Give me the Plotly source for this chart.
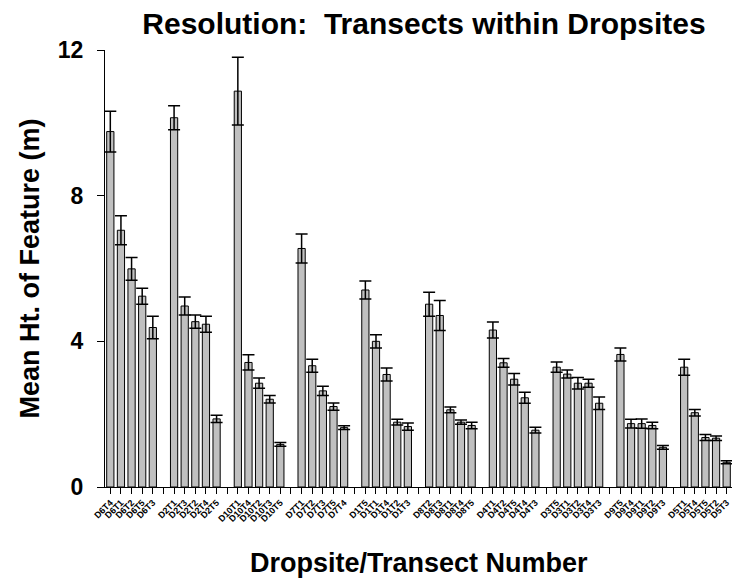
import plotly.graph_objects as go

# bar labels, in plotted order (5 transects per dropsite)
labels = [
    "D6T4", "D6T1", "D6T2", "D6T5", "D6T3",
    "D2T1", "D2T3", "D2T2", "D2T4", "D2T5",
    "D10T1", "D10T4", "D10T2", "D10T3", "D10T5",
    "D7T1", "D7T2", "D7T3", "D7T5", "D7T4",
    "D1T5", "D1T1", "D1T4", "D1T2", "D1T3",
    "D8T2", "D8T3", "D8T1", "D8T4", "D8T5",
    "D4T1", "D4T2", "D4T5", "D4T4", "D4T3",
    "D3T5", "D3T1", "D3T2", "D3T4", "D3T3",
    "D9T5", "D9T4", "D9T1", "D9T2", "D9T3",
    "D5T1", "D5T4", "D5T5", "D5T2", "D5T3",
]

means = [
    9.76, 7.05, 5.99, 5.24, 4.38,
    10.14, 4.97, 4.54, 4.47, 1.87,
    10.87, 3.42, 2.85, 2.41, 1.17,
    6.55, 3.33, 2.64, 2.21, 1.63,
    5.41, 4.00, 3.09, 1.78, 1.66,
    5.02, 4.71, 2.12, 1.78, 1.69,
    4.31, 3.41, 2.96, 2.45, 1.56,
    3.29, 3.10, 2.85, 2.85, 2.30,
    3.64, 1.74, 1.74, 1.69, 1.09,
    3.29, 2.04, 1.36, 1.34, 0.68,
]

errors = [
    0.56, 0.40, 0.31, 0.22, 0.31,
    0.33, 0.25, 0.18, 0.22, 0.10,
    0.93, 0.21, 0.14, 0.10, 0.05,
    0.40, 0.18, 0.13, 0.10, 0.05,
    0.25, 0.18, 0.18, 0.08, 0.10,
    0.33, 0.41, 0.08, 0.06, 0.09,
    0.22, 0.12, 0.16, 0.15, 0.08,
    0.14, 0.11, 0.16, 0.11, 0.17,
    0.18, 0.12, 0.13, 0.09, 0.05,
    0.22, 0.09, 0.08, 0.06, 0.04,
]

per_group = 5
# one empty slot between dropsites
xpos = [i + i // per_group for i in range(len(labels))]
n_slots = xpos[-1] + 1
tick_text = [""] * n_slots
for x, lab in zip(xpos, labels):
    tick_text[x] = lab

FONT = "Liberation Sans, Arial, Helvetica, sans-serif"

fig = go.Figure(go.Bar(
    x=xpos,
    y=means,
    width=0.68,
    marker=dict(color="#c0c0c0", line=dict(color="black", width=1)),
    error_y=dict(type="data", array=errors, visible=True,
                 color="black", thickness=1.5, width=6),
))

# page body has an 8px margin, so the figure is a bit smaller than the window
fig.update_layout(
    width=734, height=575,
    margin=dict(l=97, r=10, t=42, b=96),
    plot_bgcolor="white", paper_bgcolor="white",
    showlegend=False,
    font=dict(family=FONT, color="black"),
    title=dict(text="Resolution:\u00a0 Transects within Dropsites",
               font=dict(size=30, weight="bold"),
               xref="container", yref="container",
               x=416 / 734, xanchor="center", y=1 - 15 / 575, yanchor="middle"),
    xaxis=dict(
        range=[-0.5, n_slots - 0.5], automargin=False,
        tickmode="array", tickvals=list(range(n_slots)), ticktext=tick_text,
        tickangle=-45, tickfont=dict(size=9, weight="bold"),
        ticks="outside", ticklen=6, tickcolor="black", tickwidth=1,
        showline=True, linecolor="black", linewidth=1,
        showgrid=False, zeroline=False,
    ),
    yaxis=dict(
        range=[0, 12], automargin=False,
        tickvals=[0, 4, 8, 12],
        tickfont=dict(size=23, weight="bold"),
        ticks="outside", ticklen=7, tickcolor="black", tickwidth=1,
        ticklabelstandoff=9,
        showline=True, linecolor="black", linewidth=1,
        showgrid=False, zeroline=False,
    ),
    annotations=[
        dict(text="Dropsite/Transect Number", showarrow=False,
             xref="paper", yref="paper", x=0.5, y=-76 / 437,
             xanchor="center", yanchor="middle",
             font=dict(size=27, weight="bold")),
        dict(text="Mean Ht. of Feature (m)", showarrow=False, textangle=-90,
             xref="paper", yref="paper", x=-76 / 627, y=0.5,
             xanchor="center", yanchor="middle",
             font=dict(size=27, weight="bold")),
    ],
)

fig.write_html("out.html")
